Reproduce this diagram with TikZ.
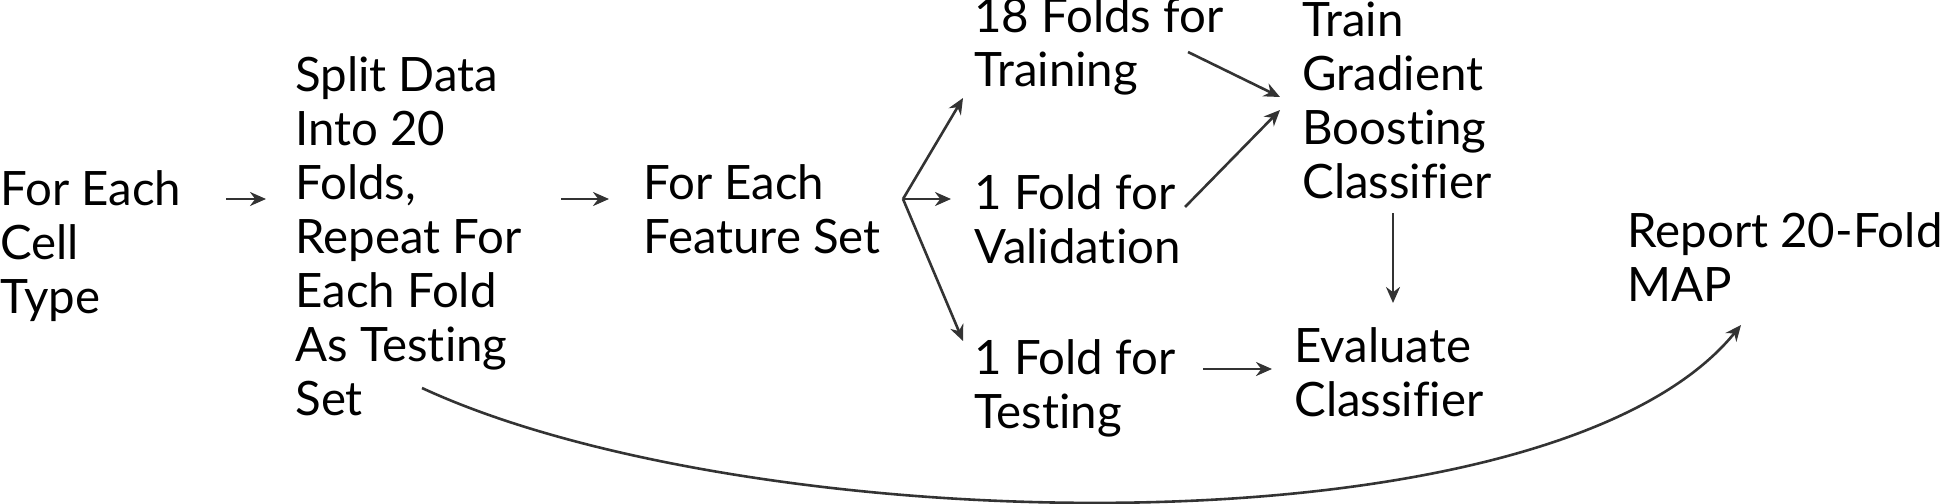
\documentclass[tikz,border=0pt]{standalone}
\usepackage{fontspec}
\setmainfont{Lato}[Ligatures=NoCommon]
\usetikzlibrary{arrows.meta}
\definecolor{ink}{HTML}{333333}
\tikzset{
  lbl/.style={anchor=west, inner sep=0pt, align=left, text=black,
    font=\fontsize{23.7}{27}\selectfont},
  arr/.style={draw=ink, line width=1.3pt, -{Stealth[length=8pt,width=7pt]}}
}
\begin{document}
\begin{tikzpicture}[x=0.5pt,y=-0.5pt]
\useasboundingbox (0,0) rectangle (1946,503);
\node[lbl] (cell) at (0,246) {For Each\\Cell\\Type};
\node[lbl] (split) at (295,236) {Split Data\\Into 20\\Folds,\\Repeat For\\Each Fold\\As Testing\\Set};
\node[lbl] (feat) at (643,209) {For Each\\Feature Set};
\node[lbl] (train) at (974,46) {18 Folds for\\Training};
\node[lbl] (valid) at (974,219) {1 Fold for\\Validation};
\node[lbl] (test) at (974,388) {1 Fold for\\Testing};
\node[lbl] (gbc) at (1302,100) {Train\\Gradient\\Boosting\\Classifier};
\node[lbl] (eval) at (1294,372) {Evaluate\\Classifier};
\node[lbl] (report) at (1627,257) {Report 20-Fold\\MAP};
% connector end points
\coordinate (a1s) at (226,199); \coordinate (a1e) at (266,199);
\coordinate (a2s) at (561,199); \coordinate (a2e) at (609,199);
\coordinate (br) at (903,199);
\coordinate (brT) at (963,98); \coordinate (brV) at (951,199); \coordinate (brX) at (963,341);
\coordinate (tS) at (1188,52); \coordinate (gT) at (1280,97);
\coordinate (vS) at (1185,207); \coordinate (gV) at (1280,110);
\coordinate (gS) at (1393,213); \coordinate (eT) at (1393,303);
\coordinate (xS) at (1203,369); \coordinate (eX) at (1272,369);
\coordinate (cS) at (422,388); \coordinate (rE) at (1741,325);
\draw[arr] (a1s) -- (a1e);
\draw[arr] (a2s) -- (a2e);
\draw[arr] (br) -- (brT);
\draw[arr] (br) -- (brV);
\draw[arr] (br) -- (brX);
\draw[arr] (tS) -- (gT);
\draw[arr] (vS) -- (gV);
\draw[arr] (gS) -- (eT);
\draw[arr] (xS) -- (eX);
\draw[arr] (cS) .. controls (750,540) and (1550,560) .. (rE);
\end{tikzpicture}
\end{document}
